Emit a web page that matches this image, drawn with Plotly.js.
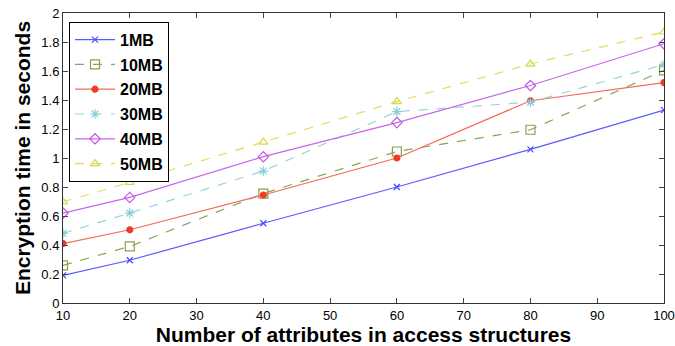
<!DOCTYPE html>
<html>
<head>
<meta charset="utf-8">
<script src="https://cdn.plot.ly/plotly-3.0.1.min.js"></script>
<style>html,body{margin:0;padding:0;background:#fff;}#chart{width:675px;height:346px;}</style>
</head>
<body>
<div id="chart"></div>
<script>
const xValues = [10, 20, 40, 60, 80, 100];
const seriesNames = ["1MB", "10MB", "20MB", "30MB", "40MB", "50MB"];
const s1MB  = [0.19, 0.295, 0.55, 0.80, 1.06, 1.33];
const s10MB = [0.26, 0.39, 0.755, 1.045, 1.195, 1.605];
const s20MB = [0.41, 0.505, 0.745, 1.00, 1.395, 1.52];
const s30MB = [0.48, 0.62, 0.91, 1.32, 1.385, 1.645];
const s40MB = [0.62, 0.728, 1.009, 1.244, 1.50, 1.788];
const s50MB = [0.698, 0.832, 1.11, 1.389, 1.648, 1.869];
const yTicks = [0, 0.2, 0.4, 0.6, 0.8, 1, 1.2, 1.4, 1.6, 1.8, 2];
const xTicks = [10, 20, 30, 40, 50, 60, 70, 80, 90, 100];

const allSeries = [s1MB, s10MB, s20MB, s30MB, s40MB, s50MB];
const colors = ["#4a4aff", "#86a34a", "#f03a2a", "#86cfd6", "#c355e6", "#d9d94a"];
const lineColors = ["#5a5aff", "#8aa652", "#f36a5a", "#98d4da", "#c866e8", "#dede5e"];
const symbols = ["x-thin-open", "square-open", "circle", "asterisk-open", "diamond-open", "triangle-up-open"];
const sizes = [6, 9, 6, 8, 8, 8];
const dashes = ["solid", "dash", "solid", "dash", "solid", "dash"];

const traces = allSeries.map((ys, i) => ({
  x: xValues, y: ys, name: seriesNames[i], type: "scatter", mode: "lines+markers",
  legendgroup: "g" + i,
  line: {color: lineColors[i], width: 1.2, dash: dashes[i]},
  marker: {symbol: symbols[i], size: sizes[i], color: colors[i], line: {color: colors[i], width: 1.2}}
}));

const layout = {
  width: 675, height: 346,
  margin: {l: 63, r: 11, t: 13, b: 43},
  paper_bgcolor: "#fff", plot_bgcolor: "#fff",
  font: {family: "Liberation Sans, Arial, sans-serif", color: "#000"},
  showlegend: true,
  legend: {x: 0.01, y: 0.97, xanchor: "left", yanchor: "top",
    bordercolor: "#000", borderwidth: 1, bgcolor: "#fff",
    traceorder: "grouped", tracegroupgap: 1,
    font: {size: 16, family: "Liberation Sans, Arial, sans-serif", weight: "bold"},
    itemwidth: 40},
  xaxis: {range: [10, 100], tickvals: xTicks, ticktext: xTicks.map(String),
    ticks: "inside", ticklen: 5, tickcolor: "#444", mirror: "ticks", showline: true, linecolor: "#333",
    showgrid: false, zeroline: false, tickfont: {size: 13}, ticklabeloverflow: "allow",
    title: {text: "Number of attributes in access structures", font: {size: 21, weight: "bold"}, standoff: 3}},
  yaxis: {range: [0, 2], tickvals: yTicks, ticktext: yTicks.map(String),
    ticks: "inside", ticklen: 5, tickcolor: "#444", mirror: "ticks", showline: true, linecolor: "#333",
    showgrid: false, zeroline: false, tickfont: {size: 13},
    title: {text: "Encryption time in seconds", font: {size: 21, weight: "bold"}, standoff: 4}}
};

Plotly.newPlot("chart", traces, layout, {displayModeBar: false, staticPlot: true});
</script>
</body>
</html>
